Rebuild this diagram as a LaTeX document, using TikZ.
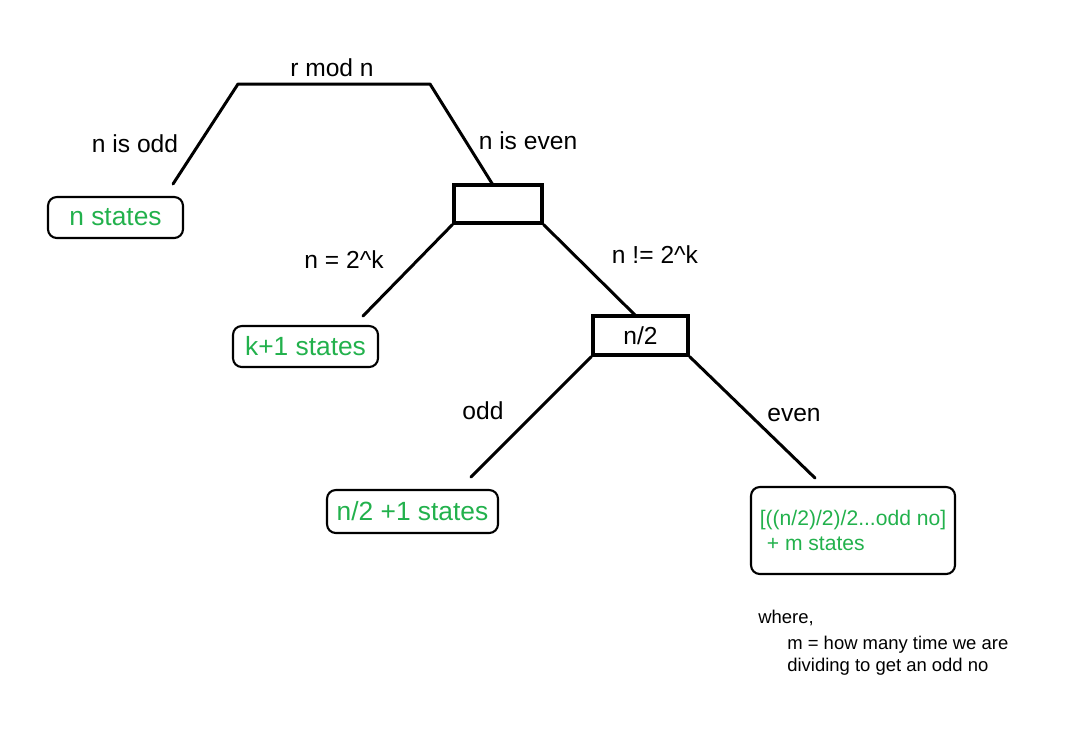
\documentclass[tikz,border=0pt]{standalone}
\usepackage{fontspec}
\setmainfont{Liberation Sans}
\usepackage{xcolor}
\usetikzlibrary{calc}
\definecolor{ink}{HTML}{000000}
\definecolor{leaf}{HTML}{22B14C}
\tikzset{
  branch/.style={draw=ink, line width=1.7pt, line cap=round, line join=round},
  testbox/.style={draw=ink, line width=1.8pt, inner sep=0pt, font=\fontsize{14}{16}\selectfont},
  leafbox/.style={draw=ink, line width=1.2pt, rounded corners=5pt, inner sep=0pt, text=leaf, font=\fontsize{15}{17}\selectfont},
  lab/.style={text=ink, inner sep=0pt, font=\fontsize{14}{16}\selectfont},
  note/.style={text=ink, inner sep=0pt, anchor=west, font=\fontsize{10.5}{12}\selectfont},
}
\begin{document}
\begin{tikzpicture}[x=0.02cm, y=-0.02cm]
  \useasboundingbox (0,0) rectangle (1071,752);

  % top split on r mod n
  \coordinate (TL) at (238,84);
  \coordinate (TR) at (430,84);
  \coordinate (oddend) at (173,184);
  \coordinate (evenend) at (493,185);
  \draw[branch] (oddend)--(TL)--(TR)--(evenend);
  \node[lab] (rmod) at (332,68) {r mod n};
  \node[lab] (isodd) at (135,144) {n is odd};
  \node[lab] (iseven) at (528,141) {n is even};

  \node[leafbox, minimum width=2.7cm, minimum height=0.82cm] (oddleaf) at (115.5,217.5) {n states};

  % even branch
  \node[testbox, minimum width=1.76cm, minimum height=0.76cm] (split) at (498,204) {};
  \coordinate (powend) at (363,316);
  \coordinate (halfin) at (636,316);
  \draw[branch] (split.south west)--(powend);
  \draw[branch] (split.south east)--(halfin);
  \node[lab] (pow) at (344,260) {n = 2\^{}k};
  \node[lab] (notpow) at (655,255) {n != 2\^{}k};

  \node[leafbox, minimum width=2.9cm, minimum height=0.82cm] (powleaf) at (305.5,346.5) {k+1 states};

  % halving
  \node[testbox, minimum width=1.9cm, minimum height=0.78cm] (half) at (640.5,335.5) {n/2};
  \coordinate (oddhalfin) at (471,477);
  \coordinate (evenhalfin) at (815,478);
  \draw[branch] (half.south west)--(oddhalfin);
  \draw[branch] (half.south east)--(evenhalfin);
  \node[lab] (oddlab) at (483,411) {odd};
  \node[lab] (evenlab) at (794,415) {even};

  \node[leafbox, minimum width=3.42cm, minimum height=0.86cm] (oddhalf) at (412.5,511.5) {n/2 +1 states};
  \node[leafbox, minimum width=4.08cm, minimum height=1.74cm, align=left,
        font=\fontsize{12}{14.5}\selectfont] (evenleaf) at (853,530.5)
        {[((n/2)/2)/2...odd no]\\\hspace{4pt}+ m states};

  \node[note] (where) at (758,618) {where,};
  \node[note] (mdef1) at (787,645) {m = how many time we are};
  \node[note] (mdef2) at (787,667) {dividing to get an odd no};
\end{tikzpicture}
\end{document}
